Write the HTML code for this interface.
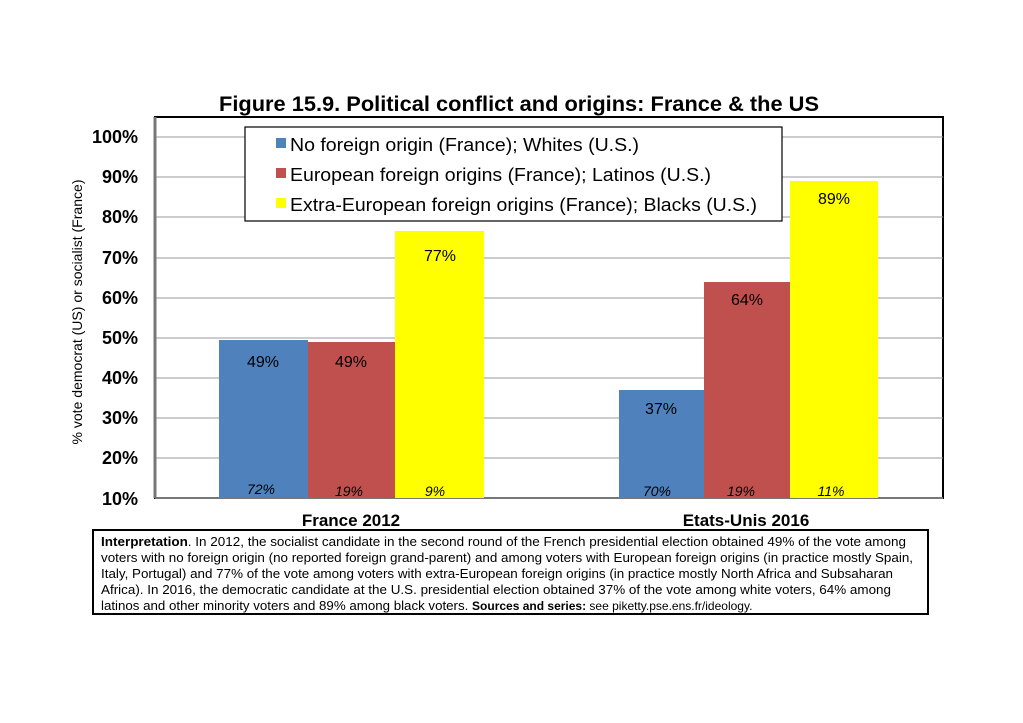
<!DOCTYPE html>
<html><head><meta charset="utf-8"><style>
body{margin:0;background:#fff;}
svg{display:block;font-family:"Liberation Sans",Arial,sans-serif;}
</style></head><body>
<svg width="1023" height="723" viewBox="0 0 1023 723" xmlns="http://www.w3.org/2000/svg">
<rect width="1023" height="723" fill="#fff"/>
<text x="519" y="111" font-size="21" font-weight="bold" text-anchor="middle" textLength="600" lengthAdjust="spacingAndGlyphs">Figure 15.9. Political conflict and origins: France &amp; the US</text>
<rect x="155" y="117" width="788" height="381" fill="#fff" stroke="#000" stroke-width="2"/>
<g stroke="#999" stroke-width="1">
<line x1="155" y1="137" x2="943" y2="137"/><line x1="155" y1="177" x2="943" y2="177"/>
<line x1="155" y1="217" x2="943" y2="217"/><line x1="155" y1="258" x2="943" y2="258"/>
<line x1="155" y1="298" x2="943" y2="298"/><line x1="155" y1="338" x2="943" y2="338"/>
<line x1="155" y1="378" x2="943" y2="378"/><line x1="155" y1="418" x2="943" y2="418"/>
<line x1="155" y1="458" x2="943" y2="458"/>
</g>
<line x1="155" y1="117" x2="155" y2="498" stroke="#777" stroke-width="3"/>
<line x1="155" y1="498" x2="943" y2="498" stroke="#777" stroke-width="2"/>
<g font-size="18" font-weight="bold" text-anchor="end">
<text x="138" y="143">100%</text><text x="138" y="183">90%</text><text x="138" y="223">80%</text>
<text x="138" y="264">70%</text><text x="138" y="304">60%</text><text x="138" y="344">50%</text>
<text x="138" y="384">40%</text><text x="138" y="424">30%</text><text x="138" y="464">20%</text>
<text x="138" y="505">10%</text>
</g>
<text transform="translate(82,312) rotate(-90)" font-size="14" text-anchor="middle" textLength="265" lengthAdjust="spacingAndGlyphs">% vote democrat (US) or socialist (France)</text>
<rect x="219" y="340" width="89" height="158" fill="#4f81bd"/>
<rect x="308" y="342" width="87" height="156" fill="#c0504d"/>
<rect x="395" y="231" width="89" height="267" fill="#ffff00"/>
<rect x="619" y="390" width="85" height="108" fill="#4f81bd"/>
<rect x="704" y="282" width="86" height="216" fill="#c0504d"/>
<rect x="790" y="181" width="88" height="317" fill="#ffff00"/>
<g font-size="16" text-anchor="middle">
<text x="263" y="367">49%</text><text x="351" y="367">49%</text><text x="440" y="261">77%</text>
<text x="661" y="414">37%</text><text x="747" y="305">64%</text><text x="834" y="204">89%</text>
</g>
<g font-size="14" font-style="italic" text-anchor="middle">
<text x="261" y="494">72%</text><text x="349" y="496">19%</text><text x="435" y="496">9%</text>
<text x="657" y="496">70%</text><text x="741" y="496">19%</text><text x="831" y="496">11%</text>
</g>
<g font-size="17" font-weight="bold" text-anchor="middle">
<text x="351" y="526">France 2012</text><text x="746" y="526">Etats-Unis 2016</text>
</g>
<rect x="245" y="127" width="537" height="94" fill="#fff" stroke="#000" stroke-width="1.2"/>
<rect x="276" y="138" width="10" height="10" fill="#4f81bd"/>
<rect x="276" y="168" width="10" height="10" fill="#c0504d"/>
<rect x="276" y="198" width="10" height="10" fill="#ffff00"/>
<g font-size="18.5">
<text x="290" y="151" textLength="349" lengthAdjust="spacingAndGlyphs">No foreign origin (France); Whites (U.S.)</text>
<text x="290" y="181" textLength="421" lengthAdjust="spacingAndGlyphs">European foreign origins (France); Latinos (U.S.)</text>
<text x="290" y="211" textLength="467" lengthAdjust="spacingAndGlyphs">Extra-European foreign origins (France); Blacks (U.S.)</text>
</g>
<rect x="93" y="530" width="835" height="84" fill="#fff" stroke="#000" stroke-width="2"/>
<g font-size="13.3">
<text x="101" y="546" textLength="805" lengthAdjust="spacingAndGlyphs"><tspan font-weight="bold">Interpretation</tspan>. In 2012, the socialist candidate in the second round of the French presidential election obtained 49% of the vote among</text>
<text x="101" y="562" textLength="812" lengthAdjust="spacingAndGlyphs">voters with no foreign origin (no reported foreign grand-parent) and among voters with European foreign origins (in practice mostly Spain,</text>
<text x="101" y="578" textLength="792" lengthAdjust="spacingAndGlyphs">Italy, Portugal) and 77% of the vote among voters with extra-European foreign origins (in practice mostly North Africa and Subsaharan</text>
<text x="101" y="594" textLength="790" lengthAdjust="spacingAndGlyphs">Africa). In 2016, the democratic candidate at the U.S. presidential election obtained 37% of the vote among white voters, 64% among</text>
<text x="101" y="610">latinos and other minority voters and 89% among black voters.  <tspan font-weight="bold" font-size="12">Sources and series:</tspan><tspan font-size="12"> see piketty.pse.ens.fr/ideology.</tspan></text>
</g>
</svg>
</body></html>
